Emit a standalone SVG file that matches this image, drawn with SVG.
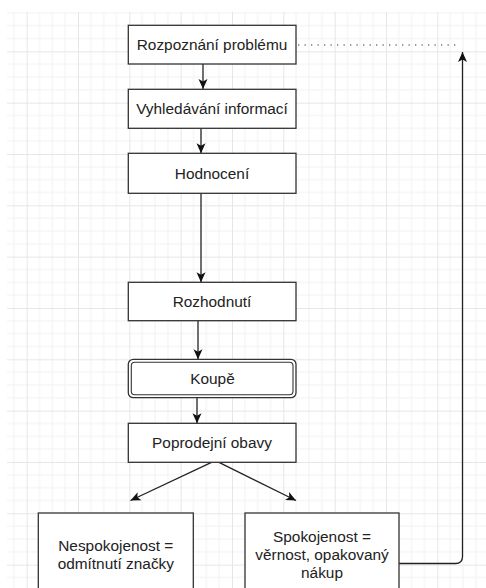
<svg xmlns="http://www.w3.org/2000/svg" width="486" height="588" viewBox="0 0 486 588">
  <defs>
    <pattern id="grid" patternUnits="userSpaceOnUse" x="26.67" y="0" width="51.33" height="51.33">
      <path d="M12.83,0 V51.33 M25.67,0 V51.33 M38.5,0 V51.33 M0,12.83 H51.33 M0,25.67 H51.33 M0,38.5 H51.33" stroke="#f2f2f2" stroke-width="1" fill="none"/>
      <path d="M0.5,0 V51.33 M0,0.5 H51.33" stroke="#e6e6e6" stroke-width="1" fill="none"/>
    </pattern>
    <marker id="arr" viewBox="0 0 10 10" refX="10" refY="5" markerWidth="10" markerHeight="10" markerUnits="userSpaceOnUse" orient="auto">
      <path d="M0,0.5 L10,5 L0,9.5 L2.5,5 Z" fill="#111"/>
    </marker>
    <style>
      .box { fill: #ffffff; stroke: #333333; stroke-width: 1.3; }
      .lbl { font-family: "Liberation Sans", Arial, sans-serif; font-size: 15.4px; fill: #222222; text-anchor: middle; }
      .edge { fill: none; stroke: #222222; stroke-width: 1.3; }
      .dot { fill: none; stroke: #777777; stroke-width: 1.3; stroke-dasharray: 1.3 5.2; }
    </style>
  </defs>
  <rect x="0" y="0" width="486" height="588" fill="#ffffff"/>
  <rect x="7" y="12" width="479" height="576" fill="url(#grid)"/>

  <g id="connectors">
    <line class="edge" x1="203" y1="64" x2="203" y2="89" marker-end="url(#arr)"/>
    <line class="edge" x1="201" y1="128.3" x2="201" y2="153.3" marker-end="url(#arr)"/>
    <line class="edge" x1="201" y1="193.3" x2="201" y2="282.3" marker-end="url(#arr)"/>
    <line class="edge" x1="198" y1="320.7" x2="198" y2="359.3" marker-end="url(#arr)"/>
    <line class="edge" x1="197" y1="397.7" x2="197" y2="423.3" marker-end="url(#arr)"/>
    <line class="edge" x1="211.5" y1="462.3" x2="130.5" y2="500.5" marker-end="url(#arr)"/>
    <line class="edge" x1="219" y1="462.3" x2="296" y2="500.5" marker-end="url(#arr)"/>
    <path class="edge" d="M399,563.5 H455.5 Q462.5,563.5 462.5,556.5 V52" marker-end="url(#arr)"/>
    <line class="dot" x1="298" y1="45" x2="459" y2="45"/>
  </g>

  <g id="rozpoznani">
    <rect class="box" x="128.3" y="25.3" width="167.7" height="38.7"/>
    <text class="lbl" x="212" y="50.3">Rozpoznání problému</text>
  </g>
  <g id="vyhledavani">
    <rect class="box" x="128.3" y="89.3" width="167.7" height="39"/>
    <text class="lbl" x="212" y="114.3">Vyhledávání informací</text>
  </g>
  <g id="hodnoceni">
    <rect class="box" x="128.3" y="153.3" width="167.7" height="40"/>
    <text class="lbl" x="212" y="178.8">Hodnocení</text>
  </g>
  <g id="rozhodnuti">
    <rect class="box" x="128.3" y="282.3" width="167.7" height="38.4"/>
    <text class="lbl" x="212" y="307">Rozhodnutí</text>
  </g>
  <g id="koupe">
    <rect class="box" x="128.3" y="359.3" width="167.7" height="38.4" rx="5" ry="5"/>
    <rect x="131.3" y="362.3" width="161.7" height="32.4" rx="3.5" ry="3.5" fill="none" stroke="#333333" stroke-width="1.1"/>
    <text class="lbl" x="212.5" y="384">Koupě</text>
  </g>
  <g id="poprodejni">
    <rect class="box" x="128.3" y="423.3" width="167.7" height="39"/>
    <text class="lbl" x="212" y="448.3">Poprodejní obavy</text>
  </g>
  <g id="nespokojenost">
    <rect class="box" x="38.3" y="513" width="155" height="85"/>
    <text class="lbl" x="115.8" y="550.7">Nespokojenost =</text>
    <text class="lbl" x="115.8" y="569.3">odmítnutí značky</text>
  </g>
  <g id="spokojenost">
    <rect class="box" x="245" y="513" width="154" height="85"/>
    <text class="lbl" x="322" y="541.5">Spokojenost =</text>
    <text class="lbl" x="322" y="560">věrnost, opakovaný</text>
    <text class="lbl" x="322" y="578.3">nákup</text>
  </g>
</svg>
